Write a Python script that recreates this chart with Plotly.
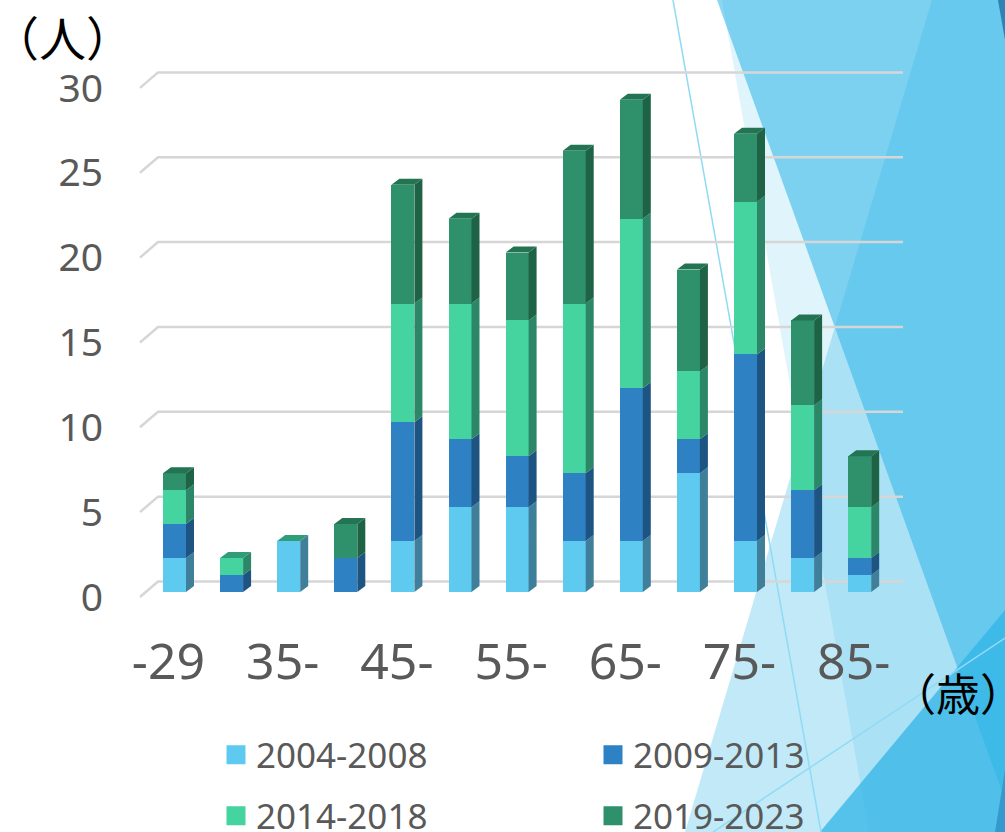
import plotly.graph_objects as go

categories = ["-29", "30-", "35-", "40-", "45-", "50-", "55-", "60-", "65-", "70-", "75-", "80-", "85-"]
s2004 = [2, 0, 3, 0, 3, 5, 5, 3, 3, 7, 3, 2, 1]
s2009 = [2, 1, 0, 2, 7, 4, 3, 4, 9, 2, 11, 4, 1]
s2014 = [2, 1, 0, 0, 7, 8, 8, 10, 10, 4, 9, 5, 3]
s2019 = [1, 0, 0, 2, 7, 5, 4, 9, 7, 6, 4, 5, 3]
series_names = ["2004-2008", "2009-2013", "2014-2018", "2019-2023"]
y_ticks = [0, 5, 10, 15, 20, 25, 30]

front = ["#5FCAF0", "#2E82C3", "#45D3A0", "#2F916B"]
side = ["#3F7F9A", "#1D5482", "#2B8768", "#1E6345"]
top = ["#2F9D7A", "#2F9D7A", "#2F9D7A", "#237452"]
W, H = 1005, 832
X0, STEP, Y0, UNIT = 174.5, 57.1, 592.0, 16.97
L, R, T, B = 130.0, 910.0, 40.0, 628.0
BW = 23 / STEP
DX, DY = 8 / STEP, 6 / UNIT
FX, FY = 18 / STEP, 15.5 / UNIT   # floor depth
data = [s2004, s2009, s2014, s2019]

fig = go.Figure()
n = len(categories)
idx = list(range(n))
for k, vals in enumerate(data):
    fig.add_bar(x=idx, y=vals, width=BW, marker=dict(color=front[k], line=dict(width=0)),
                name=series_names[k], showlegend=False, hoverinfo="skip")

totals = [sum(d[i] for d in data) for i in idx]
for k, vals in enumerate(data):
    xs, ys = [], []
    for i in idx:
        if vals[i] == 0:
            continue
        b = sum(data[j][i] for j in range(k))
        t = b + vals[i]
        xr = i + BW / 2
        xs += [xr, xr + DX, xr + DX, xr, xr, None]
        ys += [b, b + DY, t + DY, t, b, None]
    fig.add_scatter(x=xs, y=ys, mode="lines", fill="toself", fillcolor=side[k],
                    line=dict(width=0), showlegend=False, hoverinfo="skip")
    xs, ys = [], []
    for i in idx:
        topk = max(j for j in range(4) if data[j][i] > 0)
        if topk != k:
            continue
        t = totals[i]
        xl, xr = i - BW / 2, i + BW / 2
        xs += [xl, xl + DX, xr + DX, xr, xl, None]
        ys += [t, t + DY, t + DY, t, t, None]
    fig.add_scatter(x=xs, y=ys, mode="lines", fill="toself", fillcolor=top[k],
                    line=dict(width=0), showlegend=False, hoverinfo="skip")

# legend entries
leg_pos = [(216, 755), (593, 755), (216, 816), (593, 816)]
for k, (lx, ly) in enumerate(leg_pos):
    lname = "legend" if k == 0 else f"legend{k+1}"
    fig.add_scatter(x=[None], y=[None], mode="markers", name=series_names[k], legend=lname,
                    marker=dict(symbol="square", size=16, color=front[k], line=dict(width=3, color=front[k])))
    fig.update_layout({lname: dict(x=lx / W, y=1 - ly / H, xanchor="left", yanchor="middle",
                                   bgcolor="rgba(0,0,0,0)", font=dict(size=35, color="#595959", family="Noto Sans"),
                                   itemclick=False, itemdoubleclick=False)})


def poly(pts, color, op=1.0):
    path = "M" + "L".join(f"{x/W:.5f},{1-y/H:.5f}" for x, y in pts) + "Z"
    return dict(type="path", xref="paper", yref="paper", path=path, fillcolor=color, opacity=op,
                line=dict(width=0), layer="below")


def seg(x0, y0, x1, y1):
    return dict(type="line", xref="paper", yref="paper", x0=x0 / W, x1=x1 / W, y0=1 - y0 / H, y1=1 - y1 / H,
                line=dict(color="#8FDBF5", width=1.5), layer="below")


BLUE = "#31B6E7"
shapes = [
    poly([(722, 0), (1005, 0), (1005, 832), (869, 832)], BLUE, 0.15),
    poly([(820, 832), (1005, 610), (1005, 832)], BLUE, 0.75),
    poly([(717, 0), (1005, 0), (1005, 800)], BLUE, 0.56),
    poly([(932, 0), (1005, 0), (1005, 832), (685, 832)], BLUE, 0.30),
    poly([(998, 0), (1005, 0), (1005, 40)], "#2E82B8"),
    poly([(1005, 770), (1005, 832), (995, 832)], "#3598CF"),
    seg(673, 0, 821, 832),
    seg(713, 832, 1005, 638),
]
for v in y_ticks:
    x_left = (140 - X0) / STEP
    y_left = v - 5 / UNIT
    x_back = x_left + FX
    y_back = y_left + FY
    x_end = (903 - X0) / STEP
    shapes.append(dict(type="path", xref="x", yref="y",
                       path=f"M{x_left},{y_left}L{x_back},{y_back}L{x_end},{y_back}",
                       line=dict(color="#D6D6D6", width=2.5), layer="below"))

fig.update_layout(
    width=W, height=H, autosize=False,
    margin=dict(l=0, r=0, t=0, b=0, autoexpand=False),
    paper_bgcolor="white", plot_bgcolor="rgba(0,0,0,0)",
    barmode="stack", shapes=shapes,
    font=dict(family="Noto Sans", color="#595959"),
    xaxis=dict(domain=[L / W, R / W], range=[(L - X0) / STEP, (R - X0) / STEP],
               tickvals=[i - 6 / STEP for i in idx[::2]], ticktext=categories[::2],
               tickfont=dict(size=50, color="#595959"), showgrid=False, zeroline=False, showline=False, ticks=""),
    yaxis=dict(domain=[1 - B / H, 1 - T / H], range=[(Y0 - B) / UNIT, (Y0 - T) / UNIT],
               tickvals=[v - 5 / UNIT for v in y_ticks], ticktext=[str(v) for v in y_ticks],
               tickfont=dict(size=39, color="#595959"), showgrid=False, zeroline=False, showline=False, ticks="",
               ticklabelstandoff=26),
    annotations=[
        dict(text="（人）", xref="paper", yref="paper", x=62 / W, y=1 - 36 / H, showarrow=False,
             xanchor="center", yanchor="middle",
             font=dict(size=47, color="black", family="Noto Sans CJK JP")),
        dict(text="（歳）", xref="paper", yref="paper", x=958 / W, y=1 - 692 / H, showarrow=False,
             xanchor="center", yanchor="middle",
             font=dict(size=44, color="black", family="Noto Sans CJK JP")),
    ],
)
fig.write_html("out.html", post_script="document.body.style.margin='0';", config={"displayModeBar": False})
